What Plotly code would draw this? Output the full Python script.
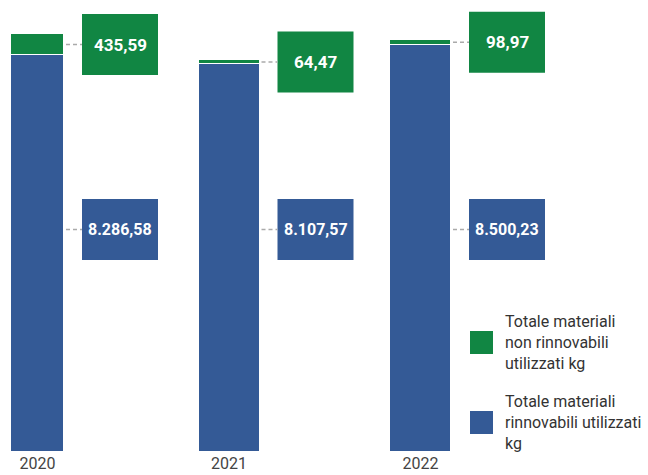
import plotly.graph_objects as go

years = ["2020", "2021", "2022"]
rinnovabili = [8286.58, 8107.57, 8500.23]
non_rinnovabili = [435.59, 64.47, 98.97]
label_rinn = ["8.286,58", "8.107,57", "8.500,23"]
label_non = ["435,59", "64,47", "98,97"]
legend_names = ["Totale materiali<br>non rinnovabili<br>utilizzati kg",
                "Totale materiali<br>rinnovabili utilizzati<br>kg"]

BLUE = "#345A96"
GREEN = "#118643"
FONT = "Roboto, Arial, sans-serif"

W, H = 648, 475
PX = 191.5          # pixels per category step
X0 = 37.5           # pixel of first category
xs = list(range(len(years)))
widths = [53 / PX, 61 / PX, 61 / PX]
YMAX = 9434
plot_bottom = 452

fig = go.Figure()
fig.add_trace(go.Bar(x=xs, y=rinnovabili, width=widths, marker=dict(color=BLUE, line=dict(color="white", width=1.5)),
                     name=legend_names[1], showlegend=False, hoverinfo="skip"))
fig.add_trace(go.Bar(x=xs, y=non_rinnovabili, width=widths, marker=dict(color=GREEN, line=dict(color="white", width=1.5)),
                     name=legend_names[0], showlegend=False, hoverinfo="skip"))

shapes = []
annotations = []
gap = 18 / PX
bw = 76 / PX
box_h = 61 / plot_bottom * YMAX
blue_y = (plot_bottom - 229.5) / plot_bottom * YMAX
for i, x in enumerate(xs):
    right = x + widths[i] / 2
    bl = right + gap
    # green box
    gy = rinnovabili[i] + non_rinnovabili[i] / 2
    shapes.append(dict(type="rect", xref="x", yref="y", x0=bl, x1=bl + bw, y0=gy - box_h / 2, y1=gy + box_h / 2,
                       fillcolor=GREEN, line=dict(width=0), layer="above"))
    shapes.append(dict(type="line", xref="x", yref="y", x0=right + 2 / PX, x1=bl, y0=gy, y1=gy,
                       line=dict(color="#aaaaaa", width=1.5, dash="4px,3px")))
    annotations.append(dict(x=bl + bw / 2, y=gy, xref="x", yref="y", text="<b>" + label_non[i] + "</b>",
                            showarrow=False, font=dict(family=FONT, size=17, color="white")))
    # blue box
    shapes.append(dict(type="rect", xref="x", yref="y", x0=bl, x1=bl + bw, y0=blue_y - box_h / 2, y1=blue_y + box_h / 2,
                       fillcolor=BLUE, line=dict(width=0), layer="above"))
    shapes.append(dict(type="line", xref="x", yref="y", x0=right + 2 / PX, x1=bl, y0=blue_y, y1=blue_y,
                       line=dict(color="#aaaaaa", width=1.5, dash="4px,3px")))
    annotations.append(dict(x=bl + bw / 2, y=blue_y, xref="x", yref="y", text="<b>" + label_rinn[i] + "</b>",
                            showarrow=False, font=dict(family=FONT, size=16, color="white")))

# custom legend
leg_items = [(GREEN, legend_names[0], 342.5), (BLUE, legend_names[1], 422.5)]
for col, name, cy in leg_items:
    shapes.append(dict(type="rect", xref="paper", yref="paper",
                       x0=470 / W, x1=493 / W, y0=(plot_bottom - cy - 11.5) / plot_bottom,
                       y1=(plot_bottom - cy + 11.5) / plot_bottom,
                       fillcolor=col, line=dict(width=0)))
    annotations.append(dict(x=503 / W, y=(plot_bottom - cy) / plot_bottom, xref="paper", yref="paper", text=name,
                            showarrow=False, xanchor="left", yanchor="middle", align="left",
                            font=dict(family=FONT, size=16, color="#333333")))

fig.update_layout(
    width=W, height=H,
    barmode="stack",
    margin=dict(l=0, r=0, t=0, b=H - plot_bottom, pad=0),
    paper_bgcolor="white", plot_bgcolor="white",
    xaxis=dict(range=[-X0 / PX, (W - X0) / PX], tickvals=xs, ticktext=years, showgrid=False, zeroline=False,
               showline=False, ticks="", ticklen=0, tickfont=dict(family=FONT, size=16, color="#444444")),
    yaxis=dict(range=[0, YMAX], visible=False, showgrid=False),
    shapes=shapes, annotations=annotations,
    bargap=0,
)
fig.update_yaxes(autorange=False)

fig.write_html("out.html", config={"displayModeBar": False},
               post_script="document.body.style.margin='0';document.body.style.overflow='hidden';")
